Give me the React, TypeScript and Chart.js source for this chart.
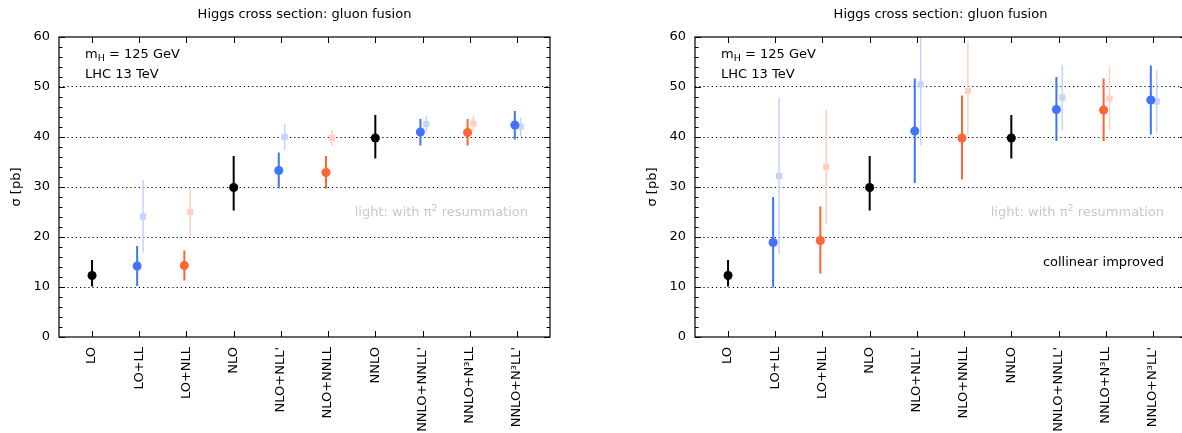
import React, { useEffect, useRef } from "react";
import { Chart, registerables } from "chart.js";

Chart.register(...registerables);

// ---------- data ----------
const categories = [
  "LO",
  "LO+LL",
  "LO+NLL",
  "NLO",
  "NLO+NLL'",
  "NLO+NNLL",
  "NNLO",
  "NNLO+NNLL'",
  "NNLO+N³LL",
  "NNLO+N³LL'",
];
// which family each category belongs to (fixed order / primed resummation / unprimed resummation)
const family = ["fixed", "primed", "plain", "fixed", "primed", "plain", "fixed", "primed", "plain", "primed"];
const yTickValues = [0, 10, 20, 30, 40, 50, 60];

// left panel
const leftCentral = [12.3, 14.2, 14.3, 29.9, 33.3, 32.9, 39.8, 41.0, 40.9, 42.4];
const leftLow = [10.1, 10.2, 11.3, 25.3, 29.7, 29.7, 35.7, 38.3, 38.3, 39.5];
const leftHigh = [15.4, 18.2, 17.3, 36.2, 36.9, 36.2, 44.4, 43.6, 43.6, 45.2];
const leftPi2Central = [null, 24.1, 25.0, null, 40.0, 39.8, null, 42.6, 42.7, 42.1];
const leftPi2Low = [null, 16.9, 20.2, null, 37.4, 38.2, null, 40.9, 41.1, 40.1];
const leftPi2High = [null, 31.4, 29.8, null, 42.6, 41.4, null, 44.2, 44.4, 43.9];

// right panel (collinear improved)
const rightCentral = [12.3, 18.9, 19.3, 29.9, 41.2, 39.8, 39.8, 45.5, 45.4, 47.4];
const rightLow = [10.1, 9.9, 12.7, 25.3, 30.8, 31.5, 35.7, 39.2, 39.2, 40.5];
const rightHigh = [15.4, 28.0, 26.1, 36.2, 51.7, 48.3, 44.4, 52.0, 51.7, 54.3];
const rightPi2Central = [null, 32.2, 34.0, null, 50.5, 49.2, null, 47.9, 47.7, 47.1];
const rightPi2Low = [null, 16.5, 22.6, null, 38.3, 40.4, null, 41.4, 41.4, 40.9];
const rightPi2High = [null, 47.9, 45.4, null, 61.0, 59.1, null, 54.4, 54.2, 53.3];

// ---------- styles ----------
const FONT = "'DejaVu Sans', sans-serif";
const COLORS: Record<string, string> = { fixed: "#000000", primed: "#3f74ff", plain: "#ff6434" };
const LIGHT: Record<string, string> = { primed: "#c4d3ff", plain: "#ffd0bf" };
const SOLID_SHIFT = -0.045;
const LIGHT_SHIFT = 0.08;

Chart.defaults.font.family = FONT;
Chart.defaults.font.size = 13;
Chart.defaults.color = "#000";

type Part = { t: string; size: number; dy?: number };

function drawRich(ctx: CanvasRenderingContext2D, parts: Part[], x: number, y: number, align: "left" | "right", color: string) {
  ctx.save();
  ctx.fillStyle = color;
  ctx.textBaseline = "alphabetic";
  ctx.textAlign = "left";
  let total = 0;
  const widths = parts.map((p) => {
    ctx.font = `${p.size}px ${FONT}`;
    const w = ctx.measureText(p.t).width;
    total += w;
    return w;
  });
  let cx = align === "left" ? x : x - total;
  parts.forEach((p, i) => {
    ctx.font = `${p.size}px ${FONT}`;
    ctx.fillText(p.t, cx, y + (p.dy || 0));
    cx += widths[i];
  });
  ctx.restore();
}

const errorBarPlugin = {
  id: "errorBars",
  beforeDatasetsDraw(chart: any) {
    const { ctx, chartArea, scales } = chart;
    const xs = scales.x;
    const ys = scales.y;
    ctx.save();
    ctx.beginPath();
    ctx.rect(chartArea.left, chartArea.top, chartArea.right - chartArea.left, chartArea.bottom - chartArea.top);
    ctx.clip();
    const dsets = chart.data.datasets.slice().reverse();
    dsets.forEach((ds: any) => {
      ctx.strokeStyle = ds.barColor;
      ctx.lineWidth = ds.barWidth;
      ds.data.forEach((p: any) => {
        const px = xs.getPixelForValue(p.x);
        ctx.beginPath();
        ctx.moveTo(px, ys.getPixelForValue(p.lo));
        ctx.lineTo(px, ys.getPixelForValue(p.hi));
        ctx.stroke();
      });
    });
    ctx.restore();
  },
};

const decorPlugin = {
  id: "decor",
  afterDraw(chart: any) {
    const { ctx, chartArea, scales } = chart;
    const { left, right, top, bottom } = chartArea;
    const xs = scales.x;
    const ys = scales.y;
    const opts = chart.options.plugins.decor;
    ctx.save();
    // frame
    ctx.strokeStyle = "#000";
    ctx.lineWidth = 1.2;
    ctx.strokeRect(left, top, right - left, bottom - top);
    // inward ticks on y (major + minor)
    ctx.lineWidth = 1;
    for (let v = 0; v <= 60; v += 2) {
      const py = Math.round(ys.getPixelForValue(v)) + 0.5;
      const len = v % 10 === 0 ? 6 : 3.5;
      ctx.beginPath();
      ctx.moveTo(left, py);
      ctx.lineTo(left + len, py);
      ctx.moveTo(right, py);
      ctx.lineTo(right - len, py);
      ctx.stroke();
    }
    // inward ticks on x at categories (top and bottom)
    categories.forEach((_, i) => {
      const px = Math.round(xs.getPixelForValue(i)) + 0.5;
      ctx.beginPath();
      ctx.moveTo(px, top);
      ctx.lineTo(px, top + 6);
      ctx.moveTo(px, bottom);
      ctx.lineTo(px, bottom - 6);
      ctx.stroke();
    });
    // title
    ctx.fillStyle = "#000";
    ctx.font = `13px ${FONT}`;
    ctx.textAlign = "center";
    ctx.textBaseline = "alphabetic";
    ctx.fillText("Higgs cross section: gluon fusion", (left + right) / 2, 17.5);
    // y title
    ctx.save();
    ctx.translate(left - 42, (top + bottom) / 2);
    ctx.rotate(-Math.PI / 2);
    ctx.textAlign = "center";
    ctx.textBaseline = "middle";
    ctx.fillText("σ [pb]", 0, 0);
    ctx.restore();
    // labels
    drawRich(ctx, [{ t: "m", size: 13 }, { t: "H", size: 9.5, dy: 3 }, { t: " = 125 GeV", size: 13 }], left + 26, top + 21, "left", "#000");
    drawRich(ctx, [{ t: "LHC 13 TeV", size: 13 }], left + 26, top + 41, "left", "#000");
    drawRich(
      ctx,
      [{ t: "light: with π", size: 13 }, { t: "2", size: 9.5, dy: -5 }, { t: " resummation", size: 13 }],
      left + 469,
      top + 179,
      "right",
      "#c8c8c8"
    );
    if (opts && opts.extra) {
      drawRich(ctx, [{ t: opts.extra, size: 13 }], left + 469, top + 229, "right", "#000");
    }
    ctx.restore();
  },
};

function buildDatasets(c: number[], lo: number[], hi: number[], pc: (number | null)[], plo: (number | null)[], phi: (number | null)[]) {
  const solid = ["fixed", "primed", "plain"].map((fam) => ({
    label: fam,
    data: categories
      .map((_, i) => i)
      .filter((i) => family[i] === fam)
      .map((i) => ({ x: i + (fam === "fixed" ? 0 : SOLID_SHIFT), y: c[i], lo: lo[i], hi: hi[i] })),
    pointStyle: "circle",
    pointRadius: 4.5,
    pointHoverRadius: 4.5,
    pointBackgroundColor: COLORS[fam],
    pointBorderWidth: 0,
    showLine: false,
    barColor: COLORS[fam],
    barWidth: 2,
  }));
  const light = ["primed", "plain"].map((fam) => ({
    label: fam + " π²",
    data: categories
      .map((_, i) => i)
      .filter((i) => family[i] === fam && pc[i] !== null)
      .map((i) => ({ x: i + LIGHT_SHIFT, y: pc[i], lo: plo[i], hi: phi[i] })),
    pointStyle: "rect",
    pointRadius: 4.4,
    pointHoverRadius: 4.4,
    pointBackgroundColor: LIGHT[fam],
    pointBorderWidth: 0,
    showLine: false,
    barColor: LIGHT[fam],
    barWidth: 1.5,
  }));
  return [...solid, ...light];
}

function Panel(props: {
  c: number[];
  lo: number[];
  hi: number[];
  pc: (number | null)[];
  plo: (number | null)[];
  phi: (number | null)[];
  extra?: string;
  left: number;
}) {
  const ref = useRef<HTMLCanvasElement>(null);
  useEffect(() => {
    const chart = new Chart(ref.current as HTMLCanvasElement, {
      type: "scatter",
      data: { datasets: buildDatasets(props.c, props.lo, props.hi, props.pc, props.plo, props.phi) as any },
      options: {
        animation: false,
        responsive: false,
        events: [],
        layout: { padding: { left: 0, right: 50, top: 37, bottom: 0 } },
        plugins: {
          legend: { display: false },
          tooltip: { enabled: false },
          decor: { extra: props.extra },
        } as any,
        scales: {
          x: {
            type: "linear",
            min: -0.7,
            max: 9.7,
            afterBuildTicks: (scale: any) => {
              scale.ticks = categories.map((_, i) => ({ value: i }));
            },
            afterFit: (scale: any) => {
              scale.height = 96;
            },
            ticks: {
              autoSkip: false,
              minRotation: 90,
              maxRotation: 90,
              padding: 10,
              font: { size: 13, family: FONT },
              color: "#000",
              callback: (v: any) => categories[v as number] ?? "",
            },
            grid: { display: false, drawTicks: false },
            border: { display: false },
          },
          y: {
            type: "linear",
            min: 0,
            max: 60,
            afterBuildTicks: (scale: any) => {
              scale.ticks = yTickValues.map((v) => ({ value: v }));
            },
            afterFit: (scale: any) => {
              scale.width = 59;
            },
            ticks: { padding: 9, font: { size: 13, family: FONT }, color: "#000" },
            grid: {
              drawTicks: false,
              lineWidth: 1,
              color: (ctx: any) => (ctx.tick && (ctx.tick.value === 0 || ctx.tick.value === 60) ? "rgba(0,0,0,0)" : "#000"),
            },
            border: { display: false, dash: [1.2, 3] },
          },
        },
      },
      plugins: [errorBarPlugin, decorPlugin],
    } as any);
    return () => chart.destroy();
  }, []);
  return (
    <canvas
      ref={ref}
      width={600}
      height={433}
      style={{ position: "absolute", left: props.left, top: 0, width: 600, height: 433 }}
    />
  );
}

export default function App() {
  return (
    <div
      style={{
        position: "fixed",
        left: 0,
        top: 0,
        width: 1182,
        height: 433,
        overflow: "hidden",
        background: "#fff",
      }}
    >
      <Panel c={leftCentral} lo={leftLow} hi={leftHigh} pc={leftPi2Central} plo={leftPi2Low} phi={leftPi2High} left={0} />
      <Panel
        c={rightCentral}
        lo={rightLow}
        hi={rightHigh}
        pc={rightPi2Central}
        plo={rightPi2Low}
        phi={rightPi2High}
        extra="collinear improved"
        left={635.5}
      />
    </div>
  );
}
